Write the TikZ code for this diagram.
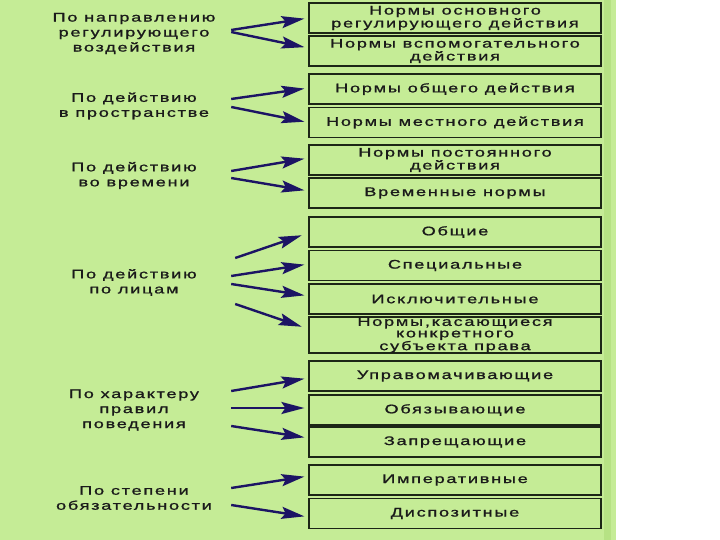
\documentclass[tikz,border=0pt]{standalone}
\usepackage{fontspec}
\setmainfont{Liberation Sans}
\newfontfamily\normfont[FakeStretch=1.45,LetterSpace=14,FakeBold=1.2]{Liberation Sans}
\usepackage{tikz}
\usetikzlibrary{arrows.meta,positioning}
\usepackage{xcolor}
\definecolor{bgGreen}{HTML}{C5EC96}
\definecolor{stripeGreen}{HTML}{B6E284}
\definecolor{boxLine}{HTML}{1C2616}
\definecolor{arrowNavy}{HTML}{1C1464}
\definecolor{textDark}{HTML}{1A1A1A}
\tikzset{
    normbox/.style={draw=boxLine,line width=1.2pt,fill=bgGreen,minimum width=292pt,minimum height=30pt,inner sep=0pt,align=center,text=textDark,font=\normfont\fontsize{12.5}{11.5}\selectfont},
    grplabel/.style={minimum width=194pt,inner sep=0pt,align=center,text=textDark,font=\normfont\fontsize{12.5}{15}\selectfont},
    classarrow/.style={->,line width=2.4pt,arrowNavy,shorten >=4pt}
}

\begin{document}
\begin{tikzpicture}[x=1pt,y=-1pt,>={Stealth[length=23pt,width=12pt,inset=4pt]}]

% background
\fill[white] (0,0) rectangle (720,540);
\fill[bgGreen] (0,0) rectangle (616,540);
\fill[stripeGreen] (604,0) rectangle (611,540);
\useasboundingbox (0,0) rectangle (720,540);

% kinds of norms
\node[normbox] at (455,18) (n1) {Нормы основного\\регулирующего действия};
\node[normbox] at (455,51) (n2) {Нормы вспомогательного\\действия};
\node[normbox] at (455,89) (n3) {Нормы общего действия};
\node[normbox] at (455,122.5) (n4) {Нормы местного действия};
\node[normbox] at (455,160) (n5) {Нормы постоянного\\действия};
\node[normbox] at (455,193) (n6) {Временные нормы};
\node[normbox] at (455,232) (n7) {Общие};
\node[normbox] at (455,265.5) (n8) {Специальные};
\node[normbox] at (455,299) (n9) {Исключительные};
\node[normbox,minimum height=36pt] at (455,335) (n10) {Нормы,касающиеся\\конкретного\\субъекта права};
\node[normbox] at (455,376) (n11) {Управомачивающие};
\node[normbox] at (455,410) (n12) {Обязывающие};
\node[normbox] at (455,442) (n13) {Запрещающие};
\node[normbox] at (455,480) (n14) {Императивные};
\node[normbox] at (455,513.5) (n15) {Диспозитные};

% criteria
\node[grplabel] at (134,33.5) (g1) {По направлению\\регулирующего\\воздействия};
\node[grplabel] at (134,106) (g2) {По действию\\в пространстве};
\node[grplabel] at (134,175.5) (g3) {По действию\\во времени};
\node[grplabel] at (134,282.5) (g4) {По действию\\по лицам};
\node[grplabel] at (134,410) (g5) {По характеру\\правил\\поведения};
\node[grplabel] at (134,498) (g6) {По степени\\обязательности};

% arrows
\draw[classarrow] ([yshift=3.5pt]g1.east) -- (n1.west);
\draw[classarrow] ([yshift=1.5pt]g1.east) -- ([yshift=3pt]n2.west);
\draw[classarrow] ([yshift=7pt]g2.east) -- ([yshift=1pt]n3.west);
\draw[classarrow] ([yshift=-1pt]g2.east) -- (n4.west);
\draw[classarrow] ([yshift=4.5pt]g3.east) -- ([yshift=2pt]n5.west);
\draw[classarrow] ([yshift=-2.5pt]g3.east) -- ([yshift=2pt]n6.west);
\draw[classarrow,shorten >=7pt] ([xshift=4pt,yshift=24.5pt]g4.east) -- ([yshift=-1pt]n7.west);
\draw[classarrow] ([yshift=6.5pt]g4.east) -- ([yshift=1.5pt]n8.west);
\draw[classarrow] ([yshift=-1.5pt]g4.east) -- ([yshift=3pt]n9.west);
\draw[classarrow,shorten >=7pt] ([xshift=4pt,yshift=-21.5pt]g4.east) -- ([yshift=6pt]n10.west);
\draw[classarrow] ([yshift=19pt]g5.east) -- ([yshift=-2pt]n11.west);
\draw[classarrow] ([yshift=2pt]g5.east) -- ([yshift=2pt]n12.west);
\draw[classarrow] ([yshift=-16pt]g5.east) -- ([yshift=4pt]n13.west);
\draw[classarrow] ([yshift=10pt]g6.east) -- ([yshift=4pt]n14.west);
\draw[classarrow] ([yshift=-7pt]g6.east) -- ([yshift=-3.5pt]n15.west);

\end{tikzpicture}
\end{document}
